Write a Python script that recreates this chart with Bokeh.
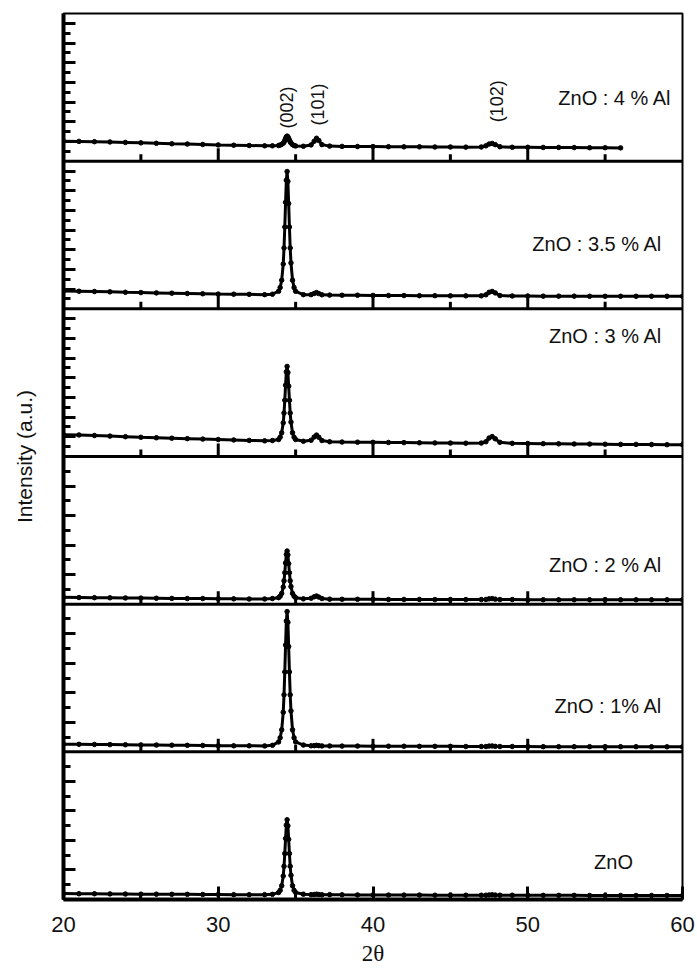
import numpy as np
from bokeh.plotting import figure
from bokeh.models import FixedTicker, CustomJSTickFormatter
from bokeh.embed import file_html
from bokeh.resources import INLINE
from bokeh.core.properties import value

# ---------------- data ----------------
two_theta = [20, 21, 22, 23, 24, 25, 26, 27, 28, 29, 30, 31, 32, 33, 33.5,
             33.9, 34.0, 34.1, 34.2, 34.25, 34.3, 34.35, 34.4, 34.45, 34.5, 34.55, 34.6, 34.65, 34.7, 34.8, 34.9, 35.0,
             35.5, 36.0, 36.2, 36.35, 36.5, 36.7, 37.2, 38, 39, 40, 41, 42, 43, 44, 45, 46, 47,
             47.3, 47.5, 47.7, 47.9, 48.2, 49, 50, 51, 52, 53, 54, 55, 56, 57, 58, 59, 60]

zno = [4.0, 3.9, 3.9, 3.8, 3.7, 3.6, 3.6, 3.5, 3.5, 3.4, 3.4, 3.3, 3.3, 3.3, 3.5,
       4.7, 6.2, 9.3, 15.9, 22.5, 31.1, 41.3, 50.4, 54.0, 49.9, 40.8, 31.1, 22.5, 16.4, 9.3, 6.2, 4.7,
       3.6, 3.3, 3.4, 3.6, 3.4, 3.2, 3.3, 3.2, 3.1, 3.1, 3.0, 3.0, 3.0, 2.9, 2.9, 2.9, 2.9,
       2.9, 3.1, 3.2, 3.0, 2.9, 2.9, 2.8, 2.8, 2.8, 2.8, 2.7, 2.7, 2.7, 2.7, 2.7, 2.7, 2.7]

zno_1al = [5.2, 5.1, 5.0, 4.9, 4.8, 4.7, 4.6, 4.5, 4.4, 4.3, 4.2, 4.1, 4.1, 4.0, 4.4,
           6.7, 9.5, 14.9, 26.8, 38.6, 54.1, 72.3, 88.6, 95.0, 87.7, 71.3, 54.1, 38.6, 27.7, 14.9, 9.5, 6.7,
           4.6, 4.1, 4.2, 4.4, 4.2, 4.0, 4.0, 3.9, 3.9, 3.8, 3.8, 3.8, 3.7, 3.7, 3.7, 3.6, 3.6,
           3.6, 3.9, 4.0, 3.7, 3.6, 3.6, 3.6, 3.5, 3.5, 3.5, 3.5, 3.5, 3.5, 3.5, 3.4, 3.4, 3.4]

zno_2al = [4.6, 4.5, 4.4, 4.3, 4.2, 4.1, 4.0, 3.9, 3.8, 3.8, 3.7, 3.6, 3.5, 3.5, 3.8,
           4.4, 5.4, 7.3, 11.6, 15.8, 21.3, 27.9, 33.7, 36.0, 33.4, 27.5, 21.3, 15.8, 11.9, 7.3, 5.4, 4.4,
           3.6, 4.0, 5.0, 5.5, 4.8, 3.8, 3.4, 3.3, 3.3, 3.3, 3.2, 3.2, 3.2, 3.1, 3.1, 3.1, 3.1,
           3.2, 3.6, 3.8, 3.4, 3.1, 3.1, 3.0, 3.0, 3.0, 3.0, 3.0, 3.0, 3.0, 3.0, 3.0, 3.0, 3.0]

zno_3al = [14.8, 14.6, 14.2, 13.8, 13.4, 13.0, 12.7, 12.4, 12.1, 11.8, 11.5, 11.2, 10.9, 10.6, 10.8,
           11.5, 13.1, 16.1, 22.8, 29.4, 38.1, 48.3, 57.4, 61.0, 56.9, 47.7, 38.1, 29.4, 23.3, 16.1, 13.1, 11.5,
           10.3, 11.0, 13.2, 14.5, 13.0, 10.8, 10.0, 9.8, 9.7, 9.6, 9.5, 9.4, 9.3, 9.2, 9.1, 9.0, 9.1,
           10.0, 12.5, 13.5, 12.0, 9.6, 8.9, 8.8, 8.7, 8.6, 8.5, 8.4, 8.3, 8.2, 8.2, 8.1, 8.0, 8.0]

zno_35al = [12.0, 11.9, 11.7, 11.5, 11.2, 11.0, 10.8, 10.6, 10.4, 10.2, 10.0, 9.9, 9.8, 9.6, 9.9,
            11.9, 14.4, 19.4, 30.3, 41.2, 55.4, 72.1, 87.1, 93.0, 86.3, 71.3, 55.4, 41.2, 31.1, 19.4, 14.4, 11.9,
            9.6, 9.6, 10.4, 11.0, 10.3, 9.5, 9.3, 9.2, 9.2, 9.1, 9.0, 9.0, 8.9, 8.9, 8.8, 8.8, 8.8,
            9.5, 11.2, 11.8, 10.8, 9.0, 8.7, 8.7, 8.6, 8.6, 8.6, 8.5, 8.5, 8.5, 8.5, 8.5, 8.5, 8.5]

# this scan stops at 56 degrees
zno_4al = [13.5, 13.4, 13.2, 13.0, 12.7, 12.4, 12.1, 11.8, 11.6, 11.3, 11.0, 10.8, 10.6, 10.4, 10.4,
           10.6, 10.9, 11.4, 12.2, 12.9, 14.0, 15.3, 16.5, 17.0, 16.5, 15.4, 14.2, 13.1, 12.3, 11.2, 10.6, 10.3,
           10.1, 11.0, 13.5, 15.5, 14.0, 11.2, 10.2, 10.0, 9.9, 9.9, 9.8, 9.7, 9.7, 9.6, 9.6, 9.5, 9.6,
           10.4, 11.6, 12.0, 11.2, 9.8, 9.4, 9.4, 9.3, 9.3, 9.2, 9.1, 9.1, 9.0]

# bottom to top
series = [zno, zno_1al, zno_2al, zno_3al, zno_35al, zno_4al]
sample_names = ["ZnO", "ZnO : 1% Al", "ZnO : 2 % Al", "ZnO : 3 % Al", "ZnO : 3.5 % Al", "ZnO : 4 % Al"]

hkl_names = ["(002)", "(101)", "(102)"]
hkl_two_theta = [34.45, 36.45, 48.0]

x_ticks = [20, 30, 40, 50, 60]
x_minor_ticks = [25, 35, 45, 55]

# ---------------- layout / style ----------------
PANEL = 100.0
n = len(series)
FRAME_H = 886
px = FRAME_H / (n * PANEL)  # pixels per y unit

p = figure(frame_width=619, frame_height=FRAME_H, x_range=(20, 60), y_range=(0, n * PANEL),
           output_backend="svg", toolbar_location=None,
           min_border_left=63, min_border_right=15, min_border_top=13, min_border_bottom=4)
p.xgrid.visible = False
p.ygrid.visible = False
p.outline_line_color = "black"
p.outline_line_width = 2
p.background_fill_color = "white"
p.border_fill_color = "white"

FONT = "Liberation Sans"
TXT = "#111111"

# bottom x axis
xa = p.xaxis[0]
xa.ticker = FixedTicker(ticks=x_ticks, minor_ticks=x_minor_ticks)
xa.major_tick_in = 13
xa.major_tick_out = 0
xa.minor_tick_in = 7
xa.minor_tick_out = 0
xa.axis_line_width = 4
xa.major_tick_line_width = 3
xa.minor_tick_line_width = 3
xa.major_label_text_font = FONT
xa.major_label_text_font_size = "22px"
xa.major_label_text_color = TXT
xa.major_label_standoff = 17
xa.axis_label = "2θ"
xa.axis_label_text_font = "Liberation Serif"
xa.axis_label_text_font_style = "normal"
xa.axis_label_text_font_size = "23px"
xa.axis_label_text_color = TXT
xa.axis_label_standoff = 6

# left y axis: ticks per panel
major_y, minor_y = [], []
for i in range(n):
    base = i * PANEL
    if i < 3:
        for k in range(1, 10):
            (major_y if k % 2 == 0 else minor_y).append(base + k * 10)
    else:
        for k in range(1, 15):
            (major_y if k % 2 == 0 else minor_y).append(base + k * PANEL / 15)
ya = p.yaxis[0]
ya.ticker = FixedTicker(ticks=major_y, minor_ticks=minor_y)
ya.formatter = CustomJSTickFormatter(code="return ''")
ya.major_tick_in = 12
ya.major_tick_out = 0
ya.minor_tick_in = 7
ya.minor_tick_out = 0
ya.axis_line_width = 4
ya.major_tick_line_width = 3
ya.minor_tick_line_width = 3
ya.major_label_standoff = 0
ya.axis_label = "Intensity (a.u.)"
ya.axis_label_text_font = FONT
ya.axis_label_text_font_style = "normal"
ya.axis_label_text_font_size = "21px"
ya.axis_label_text_color = TXT
ya.axis_label_standoff = 28

# panel separators with upward x ticks
maj_len = 13 / px
min_len = 7 / px
for i in range(1, n):
    b = i * PANEL
    p.segment(x0=[20], y0=[b], x1=[60], y1=[b], line_color="black", line_width=3)
    p.segment(x0=x_ticks[1:-1], y0=[b] * 3, x1=x_ticks[1:-1], y1=[b + maj_len] * 3,
              line_color="black", line_width=3)
    p.segment(x0=x_minor_ticks, y0=[b] * 4, x1=x_minor_ticks, y1=[b + min_len] * 4,
              line_color="black", line_width=3)

# traces
for i, ys in enumerate(series):
    xs = two_theta[:len(ys)]
    yy = [v + i * PANEL for v in ys]
    p.line(xs, yy, line_color="black", line_width=3)
    p.scatter(xs, yy, size=4.5, color="black")

# sample labels (right-aligned inside each panel)
label_right_x = [56.8, 58.7, 58.7, 58.7, 58.7, 59.3]
label_local_y = [25.6, 31.0, 26.3, 81.6, 43.8, 42.5]
p.text(x=label_right_x, y=[label_local_y[i] + i * PANEL for i in range(n)], text=sample_names,
       text_font=value(FONT), text_font_size="20px", text_align="right",
       text_baseline="middle", text_color=TXT)

# reflection labels in top panel (rotated)
hkl_local_y = [36.4, 38.4, 40.5]
p.text(x=hkl_two_theta, y=[v + (n - 1) * PANEL for v in hkl_local_y], text=hkl_names,
       angle=np.pi / 2, text_font=value(FONT), text_font_size="18px", text_align="center",
       text_baseline="middle", text_color=TXT)

open("out.html", "w").write(file_html(p, INLINE))
